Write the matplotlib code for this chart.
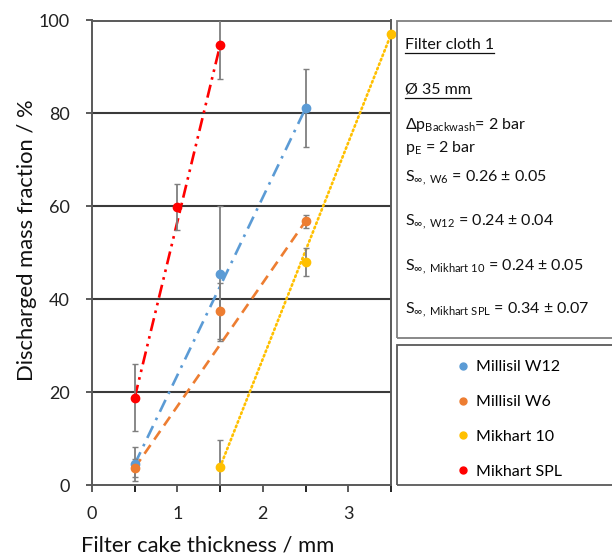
import matplotlib
matplotlib.use("Agg")
import matplotlib.pyplot as plt
from matplotlib.lines import Line2D
from matplotlib.patches import Rectangle

plt.rcParams['font.family'] = ['Lato', 'DejaVu Sans']
plt.rcParams['mathtext.fontset'] = 'custom'
plt.rcParams['mathtext.rm'] = 'Lato'
plt.rcParams['mathtext.it'] = 'Lato:italic'

# Filter cake thickness (mm) and discharged mass fraction (%) per material
series_names = ["Millisil W12", "Millisil W6", "Mikhart 10", "Mikhart SPL"]
x_w12 = [0.5, 1.5, 2.5]
y_w12 = [4.5, 45.5, 81.1]
e_w12 = [3.7, 14.5, 8.4]

x_w6 = [0.5, 1.5, 2.5]
y_w6 = [3.7, 37.4, 56.8]
e_w6 = [2.0, 6.0, 1.4]

x_m10 = [1.5, 2.5, 3.5]
y_m10 = [3.9, 48.0, 97.0]
e_m10 = [5.8, 3.0, 0.0]

x_spl = [0.5, 1.0, 1.5]
y_spl = [18.8, 59.8, 94.7]
e_spl = [7.2, 5.0, 7.3]

x_ticks = [0, 1, 2, 3]
y_ticks = [0, 20, 40, 60, 80, 100]

info_lines = [
    r"S$_{\infty\mathrm{,\ W6}}$ = 0.26 ± 0.05",
    r"S$_{\infty\mathrm{,\ W12}}$ = 0.24 ± 0.04",
    r"S$_{\infty\mathrm{,\ Mikhart\ 10}}$ = 0.24 ± 0.05",
    r"S$_{\infty\mathrm{,\ Mikhart\ SPL}}$ = 0.34 ± 0.07",
]

colors = ["#5B9BD5", "#ED7D31", "#FFC000", "#FF0000"]
W, H = 612, 559

fig = plt.figure(figsize=(W / 100, H / 100), dpi=100)
ax = fig.add_axes([92 / W, 1 - 485 / H, (391 - 92) / W, (485 - 20.5) / H])


def fx(x):
    return x / W


def fy(y):
    return 1 - y / H


data = [(x_w12, y_w12, e_w12), (x_w6, y_w6, e_w6),
        (x_m10, y_m10, e_m10), (x_spl, y_spl, e_spl)]
styles = [
    dict(dashes=(5, 2.5, 1, 2.5)),
    dict(dashes=(4, 2.5)),
    dict(dashes=(0.6, 1.2), dash_capstyle='round'),
    dict(dashes=(5, 2, 1, 2, 1, 2)),
]

for (xs, ys, es), c, st in zip(data, colors, styles):
    # trend line between first and last measurement
    ax.plot([xs[0], xs[-1]], [ys[0], ys[-1]], color=c, lw=1.9, zorder=3, **st)
    ax.errorbar(xs, ys, yerr=es, fmt='none', ecolor='#7f7f7f', elinewidth=1.3,
                capsize=2.5, capthick=1.0, zorder=4)
    ax.plot(xs, ys, 'o', color=c, ms=6, mec=c, zorder=5, clip_on=False)

ax.set_xlim(0, 3.5)
ax.set_ylim(0, 100)
ax.set_xticks(x_ticks)
ax.set_xticks([0.5, 1.5, 2.5, 3.5], minor=True)
ax.set_yticks(y_ticks)
ax.tick_params(axis='both', labelsize=13, colors='#404040', labelcolor='#222222')
ax.tick_params(axis='x', which='both', direction='out', length=5, width=1.2, pad=10)
ax.tick_params(axis='y', direction='out', length=4, width=1.2, pad=12)
for y in y_ticks[1:-1]:
    ax.axhline(y, color='#3a3a3a', lw=1.5, zorder=1)
for s in ax.spines.values():
    s.set_color('#595959')
    s.set_linewidth(1.4)

ax.set_xlabel("Filter cake thickness / mm", fontsize=15.8, color='#111111')
ax.set_ylabel("Discharged mass fraction / %", fontsize=15.8, color='#111111')
ax.xaxis.set_label_coords((207.5 - 92) / 299, (485 - 535) / 464.5)
ax.yaxis.set_label_coords((37 - 92) / 299, (485 - 240) / 464.5)

# information box and legend box on the right
fig.add_artist(Rectangle((fx(397), fy(338)), fx(240), (338 - 20.5) / H,
                         transform=fig.transFigure, fill=False,
                         ec='#7f7f7f', lw=1.3, clip_on=False))
fig.add_artist(Rectangle((fx(397), fy(485)), fx(240), (485 - 345) / H,
                         transform=fig.transFigure, fill=False,
                         ec='#595959', lw=1.3, clip_on=False))

tx = fx(405)
fs = 11.5
t1 = fig.text(tx, fy(45), "Filter cloth 1", fontsize=fs, va='center', color='#111111')
t2 = fig.text(tx, fy(90), "Ø 35 mm", fontsize=fs, va='center', color='#111111')
fig.text(tx, fy(125), r"Δp$_{\mathrm{Backwash}}$= 2 bar", fontsize=fs, va='center',
         color='#111111')
fig.text(tx, fy(148), r"p$_{\mathrm{E}}$ = 2 bar", fontsize=fs, va='center', color='#111111')
for yy, s in zip([178, 222, 267, 310], info_lines):
    fig.text(tx, fy(yy), s, fontsize=fs, va='center', color='#111111')

fig.canvas.draw()
r = fig.canvas.get_renderer()
for t in (t1, t2):
    bb = t.get_window_extent(r).transformed(fig.transFigure.inverted())
    fig.add_artist(Line2D([bb.x0, bb.x1], [bb.y0 - 0.002, bb.y0 - 0.002],
                          transform=fig.transFigure, color='#111111', lw=0.9))

handles = [Line2D([], [], ls='none', marker='o', ms=5, color=c) for c in colors]
fig.legend(handles, series_names, loc='upper left',
           bbox_to_anchor=(fx(450), fy(352)), bbox_transform=fig.transFigure,
           frameon=False, fontsize=fs, handlelength=0.6, handletextpad=0.5,
           labelspacing=1.3, borderpad=0)

fig.savefig("out.png", dpi=100)
